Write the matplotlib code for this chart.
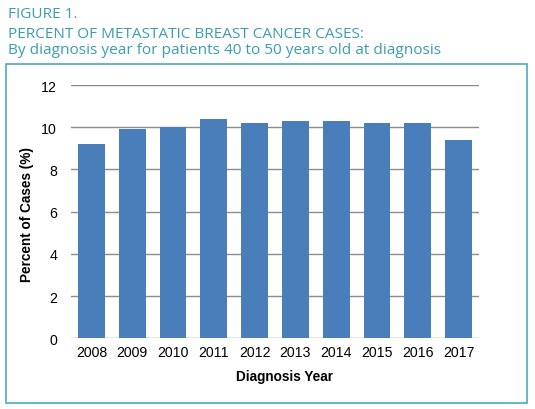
import matplotlib
matplotlib.use("Agg")
import matplotlib.pyplot as plt
from matplotlib.patches import Rectangle

years = ["2008", "2009", "2010", "2011", "2012", "2013", "2014", "2015", "2016", "2017"]
percent = [9.2, 9.9, 10.0, 10.4, 10.2, 10.3, 10.3, 10.2, 10.2, 9.4]
yticks = [0, 2, 4, 6, 8, 10, 12]

W, H = 535, 410
fig = plt.figure(figsize=(W / 100, H / 100), dpi=100)
fig.patch.set_facecolor("white")

teal = "#3a9db2"
tfont = dict(color=teal, fontsize=11.1, family="Open Sans", ha="left", va="baseline")
fig.text(8 / W, 1 - 17.5 / H, "FIGURE 1.", **tfont)
fig.text(8 / W, 1 - 38.5 / H, "PERCENT OF METASTATIC BREAST CANCER CASES:", **tfont)
fig.text(8 / W, 1 - 53.5 / H, "By diagnosis year for patients 40 to 50 years old at diagnosis", **tfont)

# border box
fig.patches.append(Rectangle((6 / W, 1 - 404 / H), (527 - 6) / W, (404 - 65) / H,
                             transform=fig.transFigure, fill=False, edgecolor="#4aabba", lw=1.2))

ax = fig.add_axes([71 / W, 1 - 339.3 / H, (479 - 71) / W, (339.3 - 86) / H])
x = range(len(years))
ax.bar(x, percent, width=0.66, color="#4a7ebb", zorder=3)
ax.set_xlim(-0.5, len(years) - 0.5)
ax.set_ylim(0, 12)
ax.set_yticks(yticks)
ax.set_xticks(list(x))
ax.set_xticklabels(years)
ax.yaxis.grid(True, color="#8c8c8c", lw=1.0, zorder=0)
for s in ax.spines.values():
    s.set_visible(False)
ax.tick_params(axis="both", length=0, labelsize=10.2, colors="black")
ax.tick_params(axis="y", pad=10)
ax.tick_params(axis="x", pad=5)
for lab in ax.get_xticklabels() + ax.get_yticklabels():
    lab.set_family("Liberation Sans")
ax.set_xlabel("Diagnosis Year", fontsize=9.8, fontweight="bold", family="Liberation Sans")
ax.set_ylabel("Percent of Cases (%)", fontsize=9.8, fontweight="bold", family="Liberation Sans")
ax.xaxis.set_label_coords((285 - 71) / 408, -(377 - 339.3) / 253.3, transform=ax.transAxes)
ax.xaxis.label.set_va("center")
ax.yaxis.set_label_coords((27 - 71) / 408, (339.3 - 215) / 253.3, transform=ax.transAxes)
ax.yaxis.label.set_va("center")

fig.savefig("out.png", dpi=100)
